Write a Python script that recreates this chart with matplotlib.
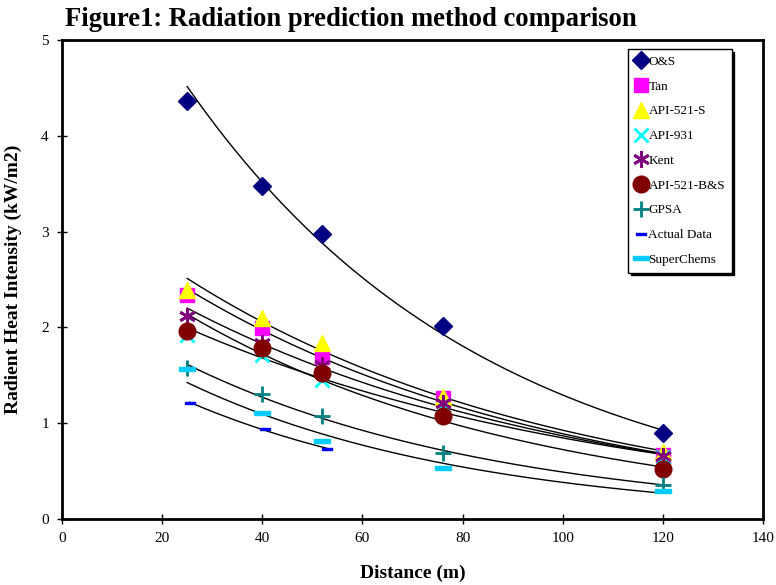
"""
Radiation prediction method comparison: radiant heat vs distance with exponential trendlines.
"""
import numpy as np
import matplotlib
matplotlib.use('Agg')
import matplotlib.pyplot as plt

plt.rcParams['font.family'] = ['Liberation Serif', 'DejaVu Serif']

distance = [25, 40, 52, 76, 120]
actual_distance = [25.5, 40.5, 53]

os_vals = [4.36, 3.48, 2.98, 2.01, 0.90]
tan_vals = [2.34, 1.99, 1.69, 1.26, 0.67]
api521s_vals = [2.39, 2.10, 1.84, 1.27, 0.70]
api931_vals = [1.92, 1.71, 1.45, 1.19, 0.65]
kent_vals = [2.12, 1.84, 1.61, 1.21, 0.66]
api521bs_vals = [1.96, 1.79, 1.52, 1.07, 0.52]
gpsa_vals = [1.58, 1.30, 1.08, 0.69, 0.36]
actual_vals = [1.21, 0.94, 0.73]
superchems_vals = [1.57, 1.11, 0.81, 0.53, 0.29]

rect = [(-1, -0.28), (1, -0.28), (1, 0.28), (-1, 0.28), (-1, -0.28)]

# label, x, y, color, marker, size
series = [
    ("O&S", distance, os_vals, "#000080", "D", 9),
    ("Tan", distance, tan_vals, "#FF00FF", "s", 10),
    ("API-521-S", distance, api521s_vals, "#FFFF00", "^", 12),
    ("API-931", distance, api931_vals, "#00FFFF", "x", 10),
    ("Kent", distance, kent_vals, "#800080", (6, 2, 0), 12),
    ("API-521-B&S", distance, api521bs_vals, "#800000", "o", 12),
    ("GPSA", distance, gpsa_vals, "#008080", "+", 12),
    ("Actual Data", actual_distance, actual_vals, "#0000FF", rect, 7),
    ("SuperChems", distance, superchems_vals, "#00CCFF", rect, 12),
]

fig = plt.figure(figsize=(7.76, 5.85), dpi=100)
ax = fig.add_axes([62 / 776, 66 / 585, 701 / 776, 479 / 585])

for label, xs, ys, color, marker, ms in series:
    xs = np.array(xs, dtype=float)
    ys = np.array(ys, dtype=float)
    # exponential trendline y = a * exp(b x)
    b, lna = np.polyfit(xs, np.log(ys), 1)
    xf = np.linspace(xs.min(), xs.max(), 200)
    ax.plot(xf, np.exp(lna + b * xf), color='black', lw=1, zorder=3)
    lw = 2 if marker in ("x", "+") or isinstance(marker, tuple) else 1
    ax.plot(xs, ys, ls='none', marker=marker, ms=ms, color=color,
            mec=color, mew=lw, label=label, zorder=4)

ax.set_xlim(0, 140)
ax.set_ylim(0, 5)
ax.set_xticks(range(0, 141, 20))
ax.set_yticks(range(0, 6))
for s in ax.spines.values():
    s.set_linewidth(2)
ax.tick_params(direction='inout', length=7, width=1, labelsize=11, pad=6)

ax.set_xlabel("Distance (m)", fontsize=14, fontweight='bold', labelpad=14)
ax.set_ylabel("Radient Heat Intensity (kW/m2)", fontsize=14, fontweight='bold', labelpad=14)

fig.text(65 / 776, 1 - 19 / 585, "Figure1: Radiation prediction method comparison",
         fontsize=19.2, fontweight='bold', va='center', ha='left')

leg = ax.legend(loc='upper left', bbox_to_anchor=(566 / 701, 1 - 9 / 479),
                fontsize=9.5, frameon=True, fancybox=False, edgecolor='black',
                shadow={'color': 'black', 'alpha': 1}, labelspacing=0.95,
                handlelength=1.0, handletextpad=0.05, borderpad=0.5,
                borderaxespad=0, markerscale=1.0)
leg.get_frame().set_linewidth(1)

fig.savefig("out.png", dpi=100)
